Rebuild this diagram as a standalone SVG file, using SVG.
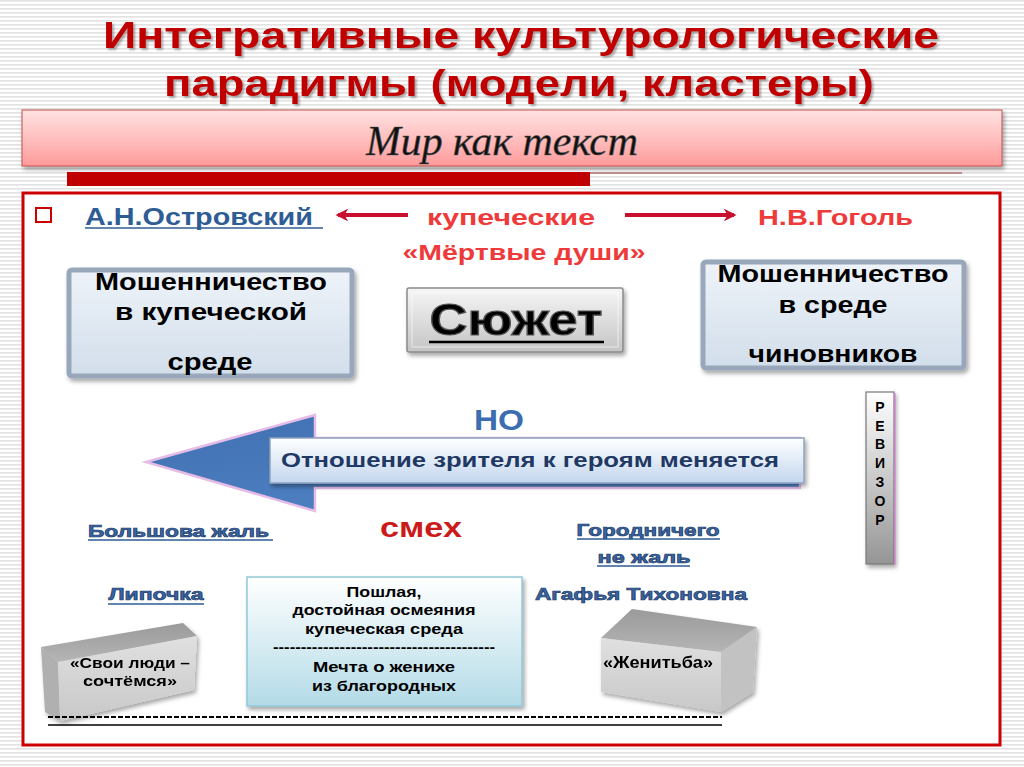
<svg xmlns="http://www.w3.org/2000/svg" width="1024" height="767" viewBox="0 0 1024 767">
<defs>
<pattern id="stripes" width="8" height="4" patternUnits="userSpaceOnUse">
<rect width="8" height="4" fill="#ffffff"/>
<rect y="0" width="8" height="1.6" fill="#e2e2e2"/>
</pattern>
<linearGradient id="gPink" x1="0" y1="0" x2="0" y2="1"><stop offset="0" stop-color="#ffe3e3"/><stop offset="1" stop-color="#ff9b9b"/></linearGradient>
<linearGradient id="gBox" x1="0" y1="0" x2="0" y2="1"><stop offset="0" stop-color="#eef3f9"/><stop offset="1" stop-color="#d2deeb"/></linearGradient>
<linearGradient id="gGray" x1="0" y1="0" x2="0" y2="1"><stop offset="0" stop-color="#f6f6f6"/><stop offset="1" stop-color="#c4c4c4"/></linearGradient>
<linearGradient id="gRev" x1="0" y1="0" x2="0" y2="1"><stop offset="0" stop-color="#ffffff"/><stop offset="1" stop-color="#959595"/></linearGradient>
<linearGradient id="gCenter" x1="0" y1="0" x2="0" y2="1"><stop offset="0" stop-color="#ffffff"/><stop offset="1" stop-color="#b3dbe7"/></linearGradient>
<linearGradient id="gHead" x1="0" y1="0" x2="1" y2="1"><stop offset="0" stop-color="#4070b2"/><stop offset="1" stop-color="#5587c9"/></linearGradient>
<linearGradient id="gShaft" x1="0" y1="0" x2="0" y2="1"><stop offset="0" stop-color="#ffffff"/><stop offset="1" stop-color="#c3d6ee"/></linearGradient>
<linearGradient id="gTop" x1="0" y1="0" x2="0" y2="1"><stop offset="0" stop-color="#9a9a9a"/><stop offset="1" stop-color="#b5b5b5"/></linearGradient>
<linearGradient id="gFront" x1="0" y1="0" x2="0" y2="1"><stop offset="0" stop-color="#e0e0e0"/><stop offset="1" stop-color="#c8c8c8"/></linearGradient>
<filter id="sh" x="-10%" y="-10%" width="130%" height="140%"><feDropShadow dx="2" dy="3" stdDeviation="2" flood-color="#000" flood-opacity="0.35"/></filter>
<filter id="tsh" x="-5%" y="-20%" width="110%" height="150%"><feDropShadow dx="2" dy="2" stdDeviation="1" flood-color="#555" flood-opacity="0.5"/></filter>
<marker id="ah" viewBox="0 0 10 10" refX="8" refY="5" markerWidth="3.2" markerHeight="3.2" orient="auto-start-reverse" markerUnits="strokeWidth"><path d="M0,0 L10,5 L0,10 L3,5 z" fill="#c8102e"/></marker>
<style>
.title{font-family:"Liberation Sans",Arial,sans-serif;font-weight:bold;font-size:37px;fill:#c00000;text-anchor:middle}
.b{font-family:"Liberation Sans",Arial,sans-serif;font-weight:bold}
.blue{fill:#2e5c95}
.red{fill:#ee3a3a}
.k{fill:#000}
.mid{text-anchor:middle}
.ol{fill:#3b66a3;stroke:#1d3b6a;stroke-width:0.7}
.ul{stroke-width:1.5}
</style>
</defs>
<rect width="1024" height="767" fill="url(#stripes)"/>

<g id="title" filter="url(#tsh)">
<text class="title" x="521" y="48" textLength="836" lengthAdjust="spacingAndGlyphs">Интегративные  культурологические</text>
<text class="title" x="519" y="96" textLength="710" lengthAdjust="spacingAndGlyphs">парадигмы (модели, кластеры)</text>
</g>

<g id="band">
<rect x="22" y="110" width="980" height="56" fill="url(#gPink)" stroke="#c0504d" stroke-width="1" filter="url(#sh)"/>
<text x="502" y="155" font-family="'Liberation Serif',serif" font-style="italic" font-size="42" fill="#111" stroke="#555" stroke-width="0.6" text-anchor="middle" textLength="272" lengthAdjust="spacingAndGlyphs">Мир как текст</text>
<rect x="67" y="172" width="523" height="14" fill="#c00000"/>
<line x1="590" y1="173" x2="962" y2="173" stroke="#b07070" stroke-width="1.5"/>
</g>

<g id="frame">
<rect x="23" y="193" width="977" height="552" fill="#ffffff" stroke="#cc0000" stroke-width="3"/>
<rect x="36" y="208" width="15" height="14" fill="none" stroke="#cc0000" stroke-width="2"/>
</g>

<g id="ostrovsky">
<text class="b blue" x="85" y="225" font-size="23" textLength="228" lengthAdjust="spacingAndGlyphs">А.Н.Островский </text>
<line x1="85" y1="228" x2="323" y2="228" stroke="#2e5c95" stroke-width="1.5"/>
</g>
<g id="kupecheskie">
<text class="b red mid" x="511" y="225" font-size="22" textLength="168" lengthAdjust="spacingAndGlyphs">купеческие</text>
<text class="b red mid" x="524" y="260" font-size="22" textLength="243" lengthAdjust="spacingAndGlyphs">«Мёртвые души»</text>
</g>
<g id="gogol">
<text class="b red" x="758" y="225" font-size="22" textLength="155" lengthAdjust="spacingAndGlyphs">Н.В.Гоголь</text>
</g>

<g id="connectors" fill="none" stroke="#c8102e" stroke-width="4">
<line x1="408" y1="215" x2="338" y2="215" marker-end="url(#ah)"/>
<line x1="625" y1="215" x2="734" y2="215" marker-end="url(#ah)"/>
</g>

<g id="box-left">
<rect x="69" y="270" width="283" height="106" rx="3" fill="url(#gBox)" stroke="#98a7b9" stroke-width="5" filter="url(#sh)"/>
<text class="b k mid" x="211" y="290" font-size="24" textLength="232" lengthAdjust="spacingAndGlyphs">Мошенничество</text>
<text class="b k mid" x="211" y="320" font-size="24" textLength="192" lengthAdjust="spacingAndGlyphs">в купеческой</text>
<text class="b k mid" x="210" y="370" font-size="24" textLength="85" lengthAdjust="spacingAndGlyphs">среде</text>
</g>

<g id="box-syuzhet">
<rect x="407" y="288" width="216" height="64" rx="2" fill="url(#gGray)" stroke="#8a8a8a" stroke-width="1.5" filter="url(#sh)"/>
<rect x="412" y="293" width="206" height="54" fill="none" stroke="#ffffff" stroke-opacity="0.6" stroke-width="1"/>
<text class="b k mid" x="516" y="335" font-size="44" stroke="#555" stroke-width="1.2" textLength="173" lengthAdjust="spacingAndGlyphs">Сюжет</text>
<line x1="429" y1="342" x2="604" y2="342" stroke="#000" stroke-width="2.5"/>
</g>

<g id="box-right">
<rect x="703" y="262" width="261" height="106" rx="3" fill="url(#gBox)" stroke="#98a7b9" stroke-width="5" filter="url(#sh)"/>
<text class="b k mid" x="833" y="282" font-size="24" textLength="231" lengthAdjust="spacingAndGlyphs">Мошенничество</text>
<text class="b k mid" x="833" y="313" font-size="24" textLength="109" lengthAdjust="spacingAndGlyphs">в среде</text>
<text class="b k mid" x="833" y="362" font-size="24" textLength="169" lengthAdjust="spacingAndGlyphs">чиновников</text>
</g>

<g id="no">
<text class="b mid" x="499" y="430" font-size="30" fill="#3d6db1" textLength="50" lengthAdjust="spacingAndGlyphs">НО</text>
</g>

<g id="big-arrow">
<polygon points="146,462 315,415 315,438 800,438 800,488 315,488 315,511" fill="url(#gHead)" stroke="#e6bce6" stroke-width="2.5"/>
<rect x="270" y="438" width="534" height="45" fill="url(#gShaft)" stroke="#8da3c0" stroke-width="1.5" filter="url(#sh)"/>
<text class="b mid" x="530" y="467" font-size="21" fill="#1f3864" textLength="498" lengthAdjust="spacingAndGlyphs">Отношение зрителя к героям меняется</text>
</g>

<g id="revizor">
<rect x="866" y="392" width="28" height="172" fill="url(#gRev)" stroke="#777" stroke-width="1.2" filter="url(#sh)"/>
<line x1="895" y1="393" x2="895" y2="565" stroke="#e080e0" stroke-width="1.2"/>
<g class="b k mid" font-size="14">
<text x="880" y="412">Р</text>
<text x="880" y="431">Е</text>
<text x="880" y="449">В</text>
<text x="880" y="468">И</text>
<text x="880" y="487">З</text>
<text x="880" y="506">О</text>
<text x="880" y="525">Р</text>
</g>
</g>

<g id="bolshov">
<text class="b ol" x="88" y="537" font-size="17" textLength="181" lengthAdjust="spacingAndGlyphs">Большова жаль </text>
<line x1="88" y1="540" x2="273" y2="540" stroke="#2e5c95" class="ul"/>
</g>
<g id="smeh">
<text class="b mid" x="421" y="537" font-size="27" fill="#cc1a1a" textLength="82" lengthAdjust="spacingAndGlyphs">смех</text>
</g>
<g id="gorodnichy">
<text class="b ol mid" x="648" y="536" font-size="17" textLength="143" lengthAdjust="spacingAndGlyphs">Городничего</text>
<line x1="577" y1="539" x2="720" y2="539" stroke="#2e5c95" class="ul"/>
<text class="b ol mid" x="644" y="563" font-size="17" textLength="93" lengthAdjust="spacingAndGlyphs">не жаль</text>
<line x1="597" y1="566" x2="690" y2="566" stroke="#2e5c95" class="ul"/>
</g>
<g id="lipochka">
<text class="b ol mid" x="156" y="600" font-size="17" textLength="95" lengthAdjust="spacingAndGlyphs">Липочка</text>
<line x1="108" y1="604" x2="204" y2="604" stroke="#2e5c95" class="ul"/>
</g>
<g id="agafya">
<text class="b ol mid" x="641" y="600" font-size="17" textLength="212" lengthAdjust="spacingAndGlyphs">Агафья Тихоновна</text>
</g>

<g id="center-box">
<rect x="247" y="577" width="275" height="129" fill="url(#gCenter)" stroke="#92c8d9" stroke-width="1.5" filter="url(#sh)"/>
<g class="b k mid" font-size="14">
<text x="384" y="597" textLength="75" lengthAdjust="spacingAndGlyphs">Пошлая,</text>
<text x="384" y="615" textLength="183" lengthAdjust="spacingAndGlyphs">достойная осмеяния</text>
<text x="384" y="634" textLength="158" lengthAdjust="spacingAndGlyphs">купеческая среда</text>
<text x="384" y="652" textLength="222" lengthAdjust="spacingAndGlyphs">----------------------------------------</text>
<text x="384" y="672" textLength="142" lengthAdjust="spacingAndGlyphs">Мечта о женихе</text>
<text x="384" y="691" textLength="144" lengthAdjust="spacingAndGlyphs">из благородных</text>
</g>
</g>

<g id="box3d-left" filter="url(#sh)">
<polygon points="41,647 183,623 197,636 58,662" fill="url(#gTop)"/>
<polygon points="41,647 58,662 60,721 45,712" fill="#b0b0b0"/>
<polygon points="58,662 197,636 194,690 60,721" fill="url(#gFront)"/>
<text class="b k mid" x="130" y="668" font-size="15" textLength="120" lengthAdjust="spacingAndGlyphs">«Свои люди –</text>
<text class="b k mid" x="130" y="686" font-size="15" textLength="94" lengthAdjust="spacingAndGlyphs">сочтёмся»</text>
</g>

<g id="box3d-right" filter="url(#sh)">
<polygon points="601,638 632,609 757,627 721,652" fill="url(#gTop)"/>
<polygon points="721,652 757,627 753,692 721,712" fill="#c2c2c2"/>
<polygon points="601,638 721,652 721,712 601,692" fill="url(#gFront)"/>
<text class="b k mid" x="658" y="668" font-size="16" textLength="110" lengthAdjust="spacingAndGlyphs">«Женитьба»</text>
</g>

<g id="bottom-lines">
<line x1="48" y1="717" x2="722" y2="717" stroke="#000" stroke-width="2" stroke-dasharray="5,2"/>
<line x1="48" y1="725" x2="722" y2="725" stroke="#000" stroke-width="1.5"/>
</g>
</svg>
